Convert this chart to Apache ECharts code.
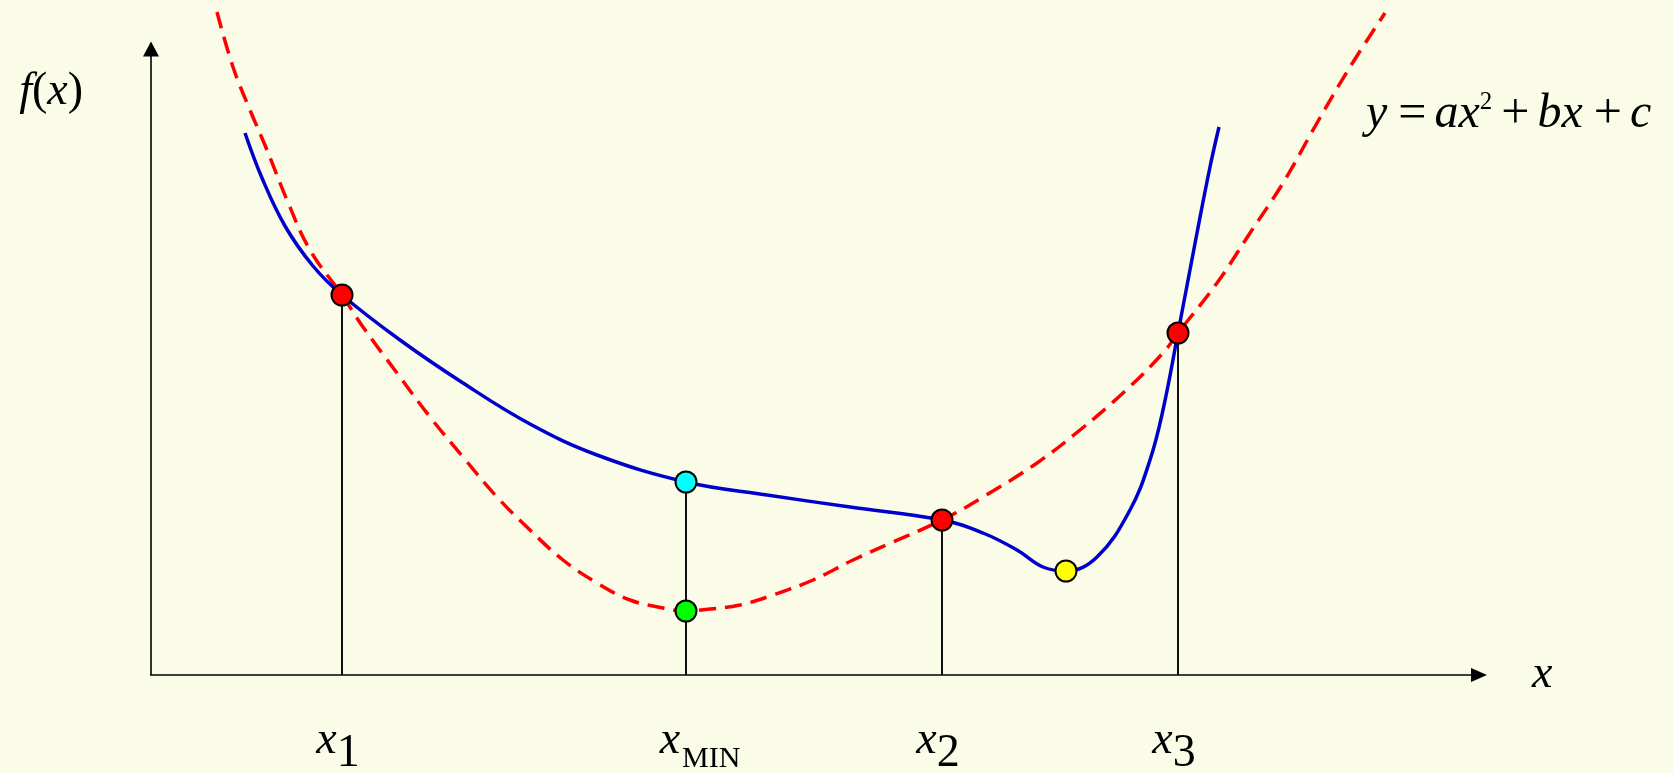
<!DOCTYPE html>
<html>
<head>
<meta charset="utf-8">
<script src="https://cdn.jsdelivr.net/npm/echarts@6/dist/echarts.min.js"></script>
<style>
html, body { margin: 0; padding: 0; background: #FBFCE8; }
#chart { width: 1673px; height: 773px; }
</style>
</head>
<body>
<div id="chart"></div>
<script>
// ---- data (abstract units) ----
// objective function f(x) (blue solid curve)
const fX = [0.94, 1.11, 1.34, 1.62, 1.91, 2.49, 3.12, 3.79, 4.46, 5.35, 6.16, 6.99, 7.91, 8.32, 8.66, 8.92, 9.15, 9.46, 9.79, 9.99, 10.12, 10.27, 10.46, 10.59, 10.68];
const fY = [5.42, 4.97, 4.49, 4.09, 3.80, 3.35, 2.92, 2.51, 2.20, 1.93, 1.80, 1.68, 1.55, 1.42, 1.25, 1.08, 1.04, 1.18, 1.65, 2.15, 2.65, 3.42, 4.42, 5.08, 5.48];
// quadratic approximation y = ax^2 + bx + c (red dashed curve)
const qX = [0.66, 0.82, 0.99, 1.16, 1.36, 1.59, 1.91, 2.12, 2.46, 2.79, 3.12, 3.46, 3.79, 4.12, 4.46, 4.79, 5.12, 5.33, 5.59, 5.89, 6.22, 6.62, 7.02, 7.42, 7.91, 8.32, 8.86, 9.29, 9.72, 10.12, 10.27, 10.66, 10.99, 11.32, 11.66, 11.99, 12.34];
const qY = [6.63, 6.08, 5.65, 5.25, 4.75, 4.25, 3.80, 3.48, 3.02, 2.58, 2.18, 1.78, 1.45, 1.15, 0.92, 0.75, 0.67, 0.64, 0.66, 0.70, 0.80, 0.95, 1.15, 1.33, 1.55, 1.78, 2.12, 2.45, 2.82, 3.22, 3.42, 3.92, 4.42, 4.92, 5.52, 6.08, 6.62];
// marked x positions and their vertical lines
const tickX = [1.91, 5.35, 7.91, 10.27];
const tickSub = ['1', 'MIN', '2', '3'];
const stemTop = [3.80, 1.93, 1.55, 3.42];
// points: x1, f(xMIN), q(xMIN), x2, local min, x3
const ptX = [1.91, 5.35, 5.35, 7.91, 9.15, 10.27];
const ptY = [3.80, 1.93, 0.64, 1.55, 1.04, 3.42];
const ptKind = ['bracket', 'fmin', 'qmin', 'bracket', 'local', 'bracket'];

// ---- styles ----
const SERIF = '"Liberation Serif", "Times New Roman", serif';
const kindColor = { bracket: '#FF0000', fmin: '#00FFFF', qmin: '#00FF00', local: '#FFFF00' };

const zip = (xs, ys) => xs.map((x, i) => [x, ys[i]]);

const stemSeries = tickX.map((x, i) => ({
  type: 'line',
  data: [[x, 0], [x, stemTop[i]]],
  symbol: 'none',
  silent: true,
  lineStyle: { color: '#111', width: 2 },
  z: 1
}));

const chart = echarts.init(document.getElementById('chart'), null, { renderer: 'canvas' });
chart.setOption({
  backgroundColor: '#FBFCE8',
  animation: false,
  title: {
    text: '{i|y}{op|=}{i|ax}{sup|2}{op2|+}{i|bx}{op|+}{i|c}',
    left: 1366, top: 90, padding: 0, itemGap: 0,
    textStyle: {
      rich: {
        i: { fontFamily: SERIF, fontStyle: 'italic', fontWeight: 'normal', fontSize: 48, color: '#000', lineHeight: 48, verticalAlign: 'top' },
        op: { fontFamily: SERIF, fontWeight: 'normal', fontSize: 50, color: '#000', lineHeight: 48, verticalAlign: 'top', padding: [0, 8, 0, 11] },
        op2: { fontFamily: SERIF, fontWeight: 'normal', fontSize: 50, color: '#000', lineHeight: 48, verticalAlign: 'top', padding: [0, 8, 0, 7] },
        sup: { fontFamily: SERIF, fontWeight: 'normal', fontSize: 25, color: '#000', lineHeight: 25, verticalAlign: 'top', padding: [0, 2, 0, 0] }
      }
    }
  },
  grid: { left: 151, top: 49, right: 194, bottom: 98, containLabel: false, outerBoundsMode: 'none' },
  xAxis: {
    type: 'value', min: 0, max: 13.28,
    name: 'x', nameLocation: 'end', nameGap: 53,
    nameTextStyle: { fontFamily: SERIF, fontStyle: 'italic', fontSize: 46, color: '#000' },
    axisLine: { show: true, onZero: false, symbol: ['none', 'triangle'], symbolSize: [14, 16],
      lineStyle: { color: '#000', width: 1.6 } },
    axisTick: { show: false },
    splitLine: { show: false },
    axisLabel: {
      customValues: tickX,
      margin: 43,
      color: '#000',
      formatter: function (v) {
        const i = tickX.indexOf(v);
        const s = tickSub[i];
        return s === 'MIN' ? '{xm|x}{m|' + s + '}' : '{x|x}{d|' + s + '}';
      },
      rich: {
        x: { fontFamily: SERIF, fontStyle: 'italic', fontSize: 46, color: '#000', verticalAlign: 'top' },
        xm: { fontFamily: SERIF, fontStyle: 'italic', fontSize: 46, color: '#000', verticalAlign: 'top', padding: [0, 0, 0, 28] },
        d: { fontFamily: SERIF, fontSize: 46, color: '#000', verticalAlign: 'top', padding: [13, 8, 0, 0] },
        m: { fontFamily: SERIF, fontSize: 30, color: '#000', verticalAlign: 'top', padding: [26, 0, 0, 2] }
      }
    }
  },
  yAxis: {
    type: 'value', min: 0, max: 6.26,
    name: '{i|f}{n|(}{i|x}{n|)}', nameLocation: 'end', nameGap: 0,
    nameTextStyle: {
      align: 'right', verticalAlign: 'top', padding: [20, 68, 0, 0],
      rich: {
        i: { fontFamily: SERIF, fontStyle: 'italic', fontSize: 46, color: '#000' },
        n: { fontFamily: SERIF, fontSize: 46, color: '#000' }
      }
    },
    axisLine: { show: true, onZero: false, symbol: ['none', 'triangle'], symbolSize: [16, 15],
      lineStyle: { color: '#000', width: 1.6 } },
    axisTick: { show: false },
    splitLine: { show: false },
    axisLabel: { show: false }
  },
  series: [
    ...stemSeries,
    {
      type: 'line', name: 'quadratic', data: zip(qX, qY), smooth: 0.4, symbol: 'none', clip: false, silent: true,
      lineStyle: { color: '#FF0000', width: 3.5, type: [17, 9] }, z: 2
    },
    {
      type: 'line', name: 'f', data: zip(fX, fY), smooth: 0.4, symbol: 'none', clip: false, silent: true,
      lineStyle: { color: '#0000CC', width: 3.5 }, z: 3
    },
    {
      type: 'scatter', silent: true, symbolSize: 21, z: 5,
      data: ptX.map((x, i) => ({ value: [x, ptY[i]], itemStyle: { color: kindColor[ptKind[i]] } })),
      itemStyle: { borderColor: '#000', borderWidth: 2, opacity: 1 }
    }
  ]
});
</script>
</body>
</html>
